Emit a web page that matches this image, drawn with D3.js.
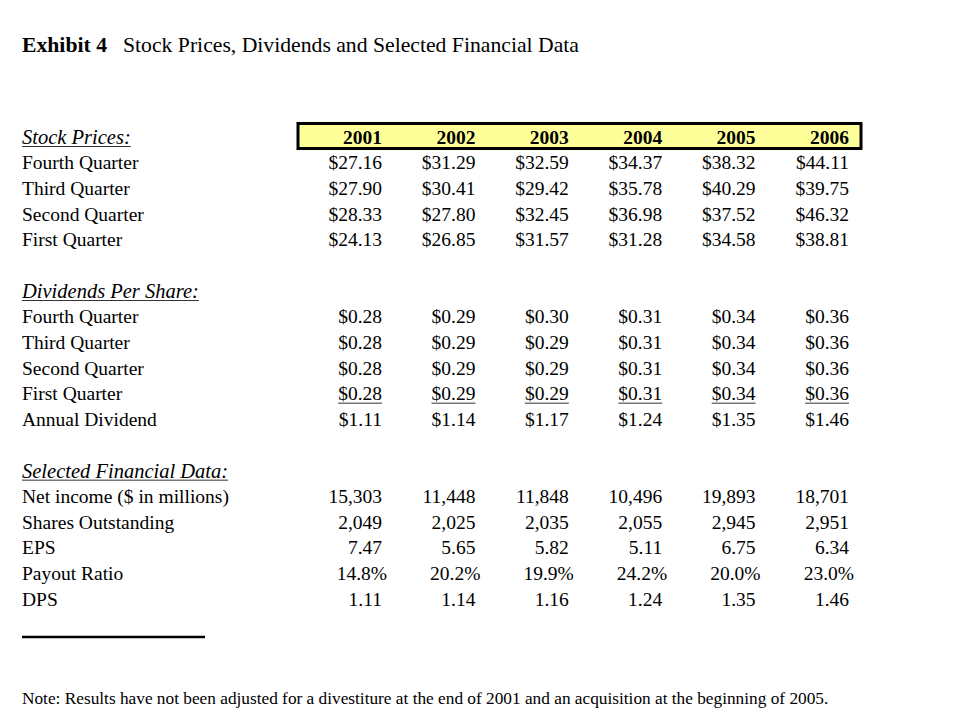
<!DOCTYPE html>
<html>
<head>
<meta charset="utf-8">
<script src="https://cdn.jsdelivr.net/npm/d3@7"></script>
<style>
  body { margin: 0; background: #fff; }
  text { font-family: "Liberation Serif", "Times New Roman", serif; fill: #000; }
</style>
</head>
<body>
<script>
// data
var years = ["2001", "2002", "2003", "2004", "2005", "2006"];
var quarters = ["Fourth Quarter", "Third Quarter", "Second Quarter", "First Quarter"];

var stockPrices = [
  [27.16, 31.29, 32.59, 34.37, 38.32, 44.11],
  [27.90, 30.41, 29.42, 35.78, 40.29, 39.75],
  [28.33, 27.80, 32.45, 36.98, 37.52, 46.32],
  [24.13, 26.85, 31.57, 31.28, 34.58, 38.81]
];
var dividends = [
  [0.28, 0.29, 0.30, 0.31, 0.34, 0.36],
  [0.28, 0.29, 0.29, 0.31, 0.34, 0.36],
  [0.28, 0.29, 0.29, 0.31, 0.34, 0.36],
  [0.28, 0.29, 0.29, 0.31, 0.34, 0.36]
];
var annualDividend = [1.11, 1.14, 1.17, 1.24, 1.35, 1.46];

var finLabels = ["Net income ($ in millions)", "Shares Outstanding", "EPS", "Payout Ratio", "DPS"];
var netIncome = [15303, 11448, 11848, 10496, 19893, 18701];
var sharesOut = [2049, 2025, 2035, 2055, 2945, 2951];
var eps = [7.47, 5.65, 5.82, 5.11, 6.75, 6.34];
var payoutRatio = [14.8, 20.2, 19.9, 24.2, 20.0, 23.0];
var dps = [1.11, 1.14, 1.16, 1.24, 1.35, 1.46];

var width = 963, height = 726;

var svg = d3.select("body").append("svg")
    .attr("width", width)
    .attr("height", height);

// column right edges and row positions
var xCol = d3.scaleLinear().domain([0, years.length - 1]).range([382, 849]);
var yRow = d3.scaleLinear().domain([0, 18]).range([137, 599]);
var left = 22;
var fs = 19.5;

var money = d3.format("$.2f"),
    comma = d3.format(","),
    dec2 = d3.format(".2f"),
    pct = function(v) { return d3.format(".1f")(v) + "%"; };

// title
var title = svg.append("text")
    .attr("x", left).attr("y", 51.5)
    .style("font-size", "21.7px");
title.append("tspan").style("font-weight", "bold").text("Exhibit 4");
title.append("tspan").attr("x", 123).text("Stock Prices, Dividends and Selected Financial Data");

// header box
svg.append("rect")
    .attr("x", 298).attr("y", 123.5)
    .attr("width", 563).attr("height", 25)
    .attr("fill", "#ffff99")
    .attr("stroke", "#000")
    .attr("stroke-width", 3);

svg.selectAll(".year")
    .data(years)
  .enter().append("text")
    .attr("class", "year")
    .attr("x", function(d, i) { return xCol(i); })
    .attr("y", yRow(0))
    .attr("dy", "0.35em")
    .attr("text-anchor", "end")
    .style("font-size", fs + "px")
    .style("font-weight", "bold")
    .text(function(d) { return d; });

// section headings (italic, underlined)
function heading(row, label) {
  var t = svg.append("text")
      .attr("x", left).attr("y", yRow(row))
      .attr("dy", "0.35em")
      .style("font-size", "20.5px")
      .style("font-style", "italic")
      .text(label);
  var w = t.node().getComputedTextLength();
  svg.append("line")
      .attr("x1", left).attr("x2", left + w)
      .attr("y1", yRow(row) + 9.5).attr("y2", yRow(row) + 9.5)
      .attr("stroke", "#333").attr("stroke-width", 1);
}

function rowLabel(row, label) {
  svg.append("text")
      .attr("x", left).attr("y", yRow(row))
      .attr("dy", "0.35em")
      .style("font-size", fs + "px")
      .text(label);
}

function rowValues(row, values, fmt, underline, shift) {
  var g = svg.append("g");
  var texts = g.selectAll("text")
      .data(values)
    .enter().append("text")
      .attr("x", function(d, i) { return xCol(i) + (shift || 0); })
      .attr("y", yRow(row))
      .attr("dy", "0.35em")
      .attr("text-anchor", "end")
      .style("font-size", fs + "px")
      .text(fmt);
  if (underline) {
    texts.each(function(d, i) {
      var w = this.getComputedTextLength();
      g.append("line")
          .attr("x1", xCol(i) - w).attr("x2", xCol(i))
          .attr("y1", yRow(row) + 9.5).attr("y2", yRow(row) + 9.5)
          .attr("stroke", "#333").attr("stroke-width", 1);
    });
  }
}

// stock prices
heading(0, "Stock Prices:");
quarters.forEach(function(q, i) {
  rowLabel(1 + i, q);
  rowValues(1 + i, stockPrices[i], money);
});

// dividends
heading(6, "Dividends Per Share:");
quarters.forEach(function(q, i) {
  rowLabel(7 + i, q);
  rowValues(7 + i, dividends[i], money, i === quarters.length - 1);
});
rowLabel(11, "Annual Dividend");
rowValues(11, annualDividend, money);

// selected financial data
heading(13, "Selected Financial Data:");
var finSeries = [netIncome, sharesOut, eps, payoutRatio, dps];
var finFormats = [comma, comma, dec2, pct, dec2];
finLabels.forEach(function(l, i) {
  rowLabel(14 + i, l);
  rowValues(14 + i, finSeries[i], finFormats[i], false, i === 3 ? 5 : 0);
});

// footnote rule
svg.append("line")
    .attr("x1", left).attr("x2", 205)
    .attr("y1", 637).attr("y2", 637)
    .attr("stroke", "#000").attr("stroke-width", 2.5);

svg.append("text")
    .attr("x", left).attr("y", 704)
    .style("font-size", "17.3px")
    .text("Note:  Results have not been adjusted for a divestiture at the end of 2001 and an acquisition at the beginning of 2005.");
</script>
</body>
</html>
